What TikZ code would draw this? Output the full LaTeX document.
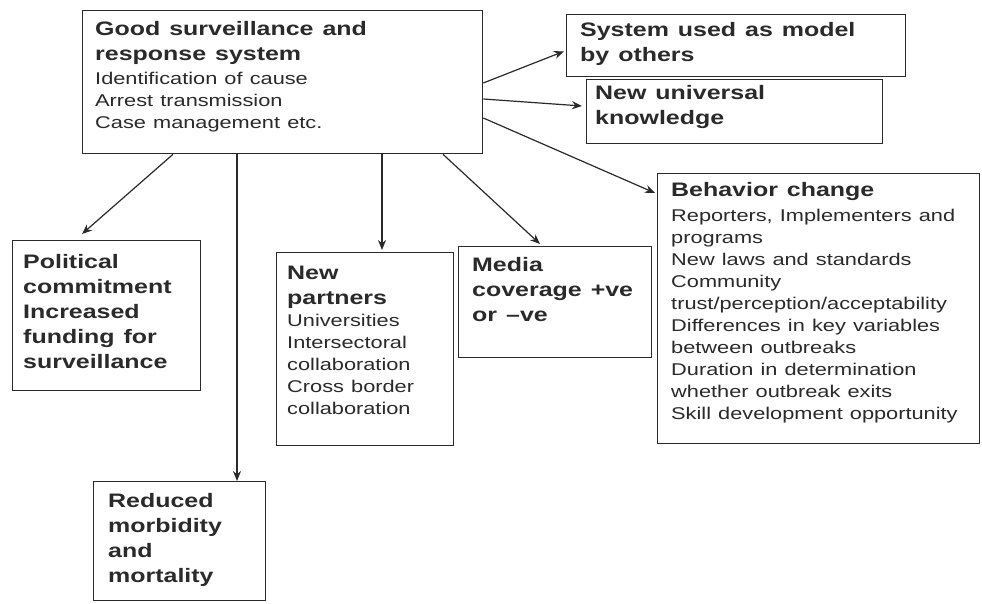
\documentclass[tikz,border=0pt]{standalone}
\usepackage{fontspec}
\setmainfont[FakeStretch=1.28]{Liberation Sans}
\usetikzlibrary{arrows.meta}
\definecolor{ink}{HTML}{2A2A2A}
\newcommand\hdf{\fontsize{19.5}{25}\selectfont\bfseries\spaceskip=0.46em\relax}
\newcommand\bdf{\fontsize{17}{22}\selectfont\mdseries\spaceskip=0.42em\relax}
\begin{document}
\begin{tikzpicture}[x=1pt,y=-1pt,
  box/.style={draw=ink,line width=1.3pt,inner sep=0pt,anchor=north west},
  txt/.style={anchor=north west,inner sep=0pt,align=left,text=ink,text width=400pt},
  arr/.style={draw=ink,line width=1.2pt,-{Stealth[length=10pt,width=8pt]}}]
\path[use as bounding box,fill=white] (0,0) rectangle (982,604);
% boxes
\node[box,minimum width=400pt,minimum height=143pt] (mainbox) at (82,10) {};
\node[box,minimum width=339pt,minimum height=62pt] (sysbox) at (566,14) {};
\node[box,minimum width=296pt,minimum height=64pt] (nukbox) at (586,79) {};
\node[box,minimum width=188pt,minimum height=150pt] (polbox) at (12,240) {};
\node[box,minimum width=177pt,minimum height=193pt] (npbox) at (276,252) {};
\node[box,minimum width=193pt,minimum height=111pt] (mediabox) at (458,246) {};
\node[box,minimum width=322pt,minimum height=270pt] (behbox) at (657,173) {};
\node[box,minimum width=172pt,minimum height=119pt] (redbox) at (93,481) {};
% texts
\node[txt] (main) at (95,21.5) {\hdf Good surveillance and\\response system\par\vspace{2pt}\bdf Identification of cause\\Arrest transmission\\Case management etc.\par};
\node[txt] (sys) at (580,22.5) {\hdf System used as model\\by others\par};
\node[txt] (nuk) at (595,85.5) {\hdf New universal\\knowledge\par};
\node[txt] (pol) at (23,254.5) {\hdf Political\\commitment\\Increased\\funding for\\surveillance\par};
\node[txt] (np) at (287,265.5) {\hdf New\\partners\par\bdf Universities\\Intersectoral\\collaboration\\Cross border\\collaboration\par};
\node[txt] (media) at (472,257.5) {\hdf Media\\coverage +ve\\or --ve\par};
\node[txt] (beh) at (671,182.5) {\hdf Behavior change\par\vspace{3pt}\bdf Reporters, Implementers and\\programs\\New laws and standards\\Community\\trust/perception/acceptability\\Differences in key variables\\between outbreaks\\Duration in determination\\whether outbreak exits\\Skill development opportunity\par};
\node[txt] (red) at (108,493.5) {\hdf Reduced\\morbidity\\and\\mortality\par};
% connectors
\draw[arr] ([xshift=91pt]mainbox.south west) -- ([shift={(70,-6)}]polbox.north west);
\draw[arr] ([xshift=155pt]mainbox.south west) -- ([xshift=144pt]redbox.north west);
\draw[arr] ([xshift=300pt]mainbox.south west) -- ([shift={(106,-2)}]npbox.north west);
\draw[arr] ([xshift=361pt]mainbox.south west) -- ([shift={(82,-2)}]mediabox.north west);
\draw[arr] ([shift={(0,108)}]mainbox.north east) -- ([shift={(-2,20)}]behbox.north west);
\draw[arr] ([shift={(0,73)}]mainbox.north east) -- ([shift={(-2,-26)}]sysbox.south west);
\draw[arr] ([shift={(0,89)}]mainbox.north east) -- ([shift={(-4,27)}]nukbox.north west);
\end{tikzpicture}
\end{document}
